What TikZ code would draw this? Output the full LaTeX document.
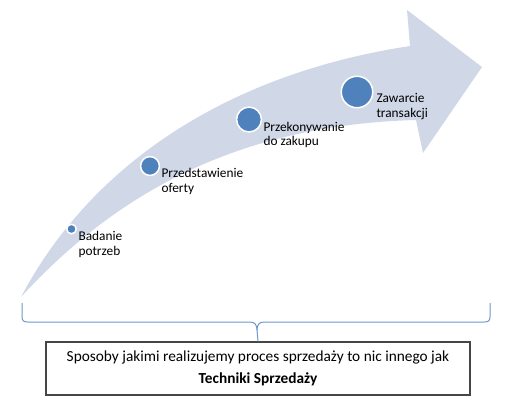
\documentclass[tikz,border=0pt]{standalone}
\usepackage{fontspec}
\setmainfont{Carlito}
\definecolor{arrowfill}{RGB}{208,216,232}
\definecolor{stepblue}{RGB}{79,129,189}
\definecolor{bracecol}{RGB}{110,150,205}
\definecolor{boxline}{RGB}{70,70,70}

\tikzset{every picture/.style={line width=0.75pt}}
\tikzset{
	stepdot/.style={circle, fill=stepblue, draw=white, line width=1.1pt, inner sep=0pt},
	steplabel/.style={anchor=base west, inner sep=0pt, align=left, font=\fontsize{10}{11}\selectfont},
}

\begin{document}
\begin{tikzpicture}[x=0.75pt,y=0.75pt,yscale=-1,xscale=1]
	\useasboundingbox (0,0) rectangle (517,405);

	%Shape: Curved Arrow [id:arrow]
	\fill [arrowfill] (21,297) .. controls (88,170) and (220,75) .. (410,46) -- (407,10) -- (482,67) -- (423,153) -- (416,120) .. controls (230,125) and (110,200) .. (21,297) -- cycle ;

	%Shape: Circle [id:dot1]
	\node [stepdot, minimum size=7.1pt] (dot1) at (71.5,229) {};
	%Shape: Circle [id:dot2]
	\node [stepdot, minimum size=14.1pt] (dot2) at (150,166) {};
	%Shape: Circle [id:dot3]
	\node [stepdot, minimum size=18.6pt] (dot3) at (249,119.5) {};
	%Shape: Circle [id:dot4]
	\node [stepdot, minimum size=23.6pt] (dot4) at (357,92) {};

	% Text Node
	\node [steplabel] (badanie) at (78,255.5) {Badanie\\potrzeb};
	% Text Node
	\node [steplabel] (oferta) at (161,192.5) {Przedstawienie\\oferty};
	% Text Node
	\node [steplabel] (przekonywanie) at (263,145.7) {Przekonywanie\\do zakupu};
	% Text Node
	\node [steplabel] (zawarcie) at (376,117) {Zawarcie\\transakcji};

	% Text Node
	\node [draw=boxline, line width=1pt, minimum width=318pt, minimum height=39.75pt, align=center, font=\fontsize{11.5}{16}\selectfont] (techniki) at (258,368.5) {Sposoby jakimi realizujemy proces sprzedaży to nic innego jak\\\textbf{Techniki Sprzedaży}};

	%Shape: Brace [id:brace]
	\coordinate (braceL) at (22,303);
	\coordinate (braceR) at (490,303);
	\coordinate (braceTip) at (257,330);
	\draw [bracecol] (braceL) -- (22,317) .. controls (22,321) and (24,322) .. (28,322) -- (250,322) .. controls (255,322) and (257,325) .. (braceTip) ;
	\draw [bracecol] (braceR) -- (490,317) .. controls (490,321) and (488,322) .. (484,322) -- (264,322) .. controls (259,322) and (257,325) .. (braceTip) ;
	\draw [bracecol] (braceTip) -- (techniki.north) ;

\end{tikzpicture}
\end{document}
